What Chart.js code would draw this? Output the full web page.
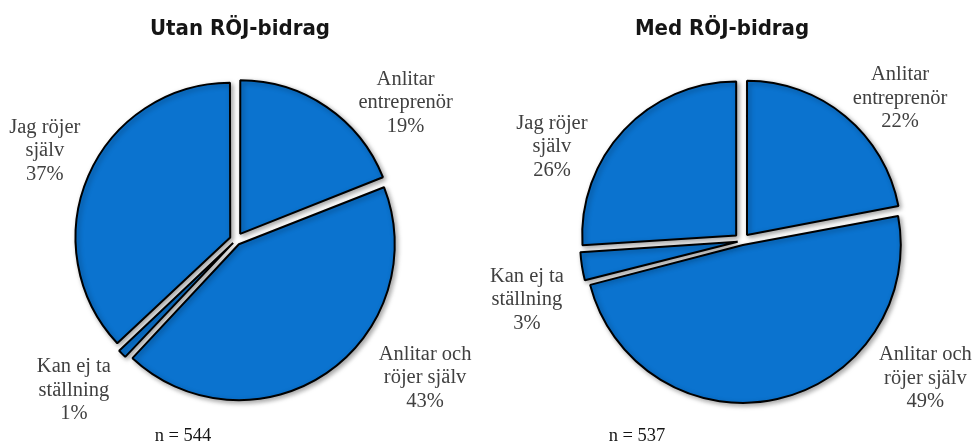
<!DOCTYPE html>
<html lang="sv">
<head>
<meta charset="utf-8">
<title>RÖJ-bidrag</title>
<script src="https://cdn.jsdelivr.net/npm/chart.js@4.4.1/dist/chart.umd.min.js"></script>
<style>
  html, body { margin: 0; padding: 0; background: #fff; }
  #wrap { position: relative; width: 975px; height: 443px; }
  canvas { position: absolute; top: 0; }
  #pieLeft { left: 0; }
  #pieRight { left: 487px; }
</style>
</head>
<body>
<div id="wrap">
  <canvas id="pieLeft" width="487" height="443"></canvas>
  <canvas id="pieRight" width="488" height="443"></canvas>
</div>
<script>
// Data
const categories = ['Anlitar\nentreprenör', 'Anlitar och\nröjer själv', 'Kan ej ta\nställning', 'Jag röjer\nsjälv'];
const titles = ['Utan RÖJ-bidrag', 'Med RÖJ-bidrag'];
const withoutGrant = [19, 43, 1, 37];
const withGrant = [22, 49, 3, 26];
const sampleSizes = [544, 537];

const sliceBlue = '#0b73cf';
const explodePx = 8;

// Chart.js moves an arc by offset/4 * (2 - sin(angle)), so undo that to get the same gap on every slice
function sliceOffset(ctx) {
    const data = ctx.dataset.data;
    const total = data.reduce((s, v) => s + v, 0);
    const angle = data[ctx.dataIndex] / total * Math.PI * 2;
    return explodePx * 4 / (2 - Math.sin(Math.min(Math.PI, angle)));
}

// Draws shadow under the slices, then title, slice labels and n
const pieNotes = {
    id: 'pieNotes',
    beforeDatasetsDraw(chart) {
        const ctx = chart.ctx;
        ctx.save();
        ctx.shadowColor = 'rgba(0, 0, 0, 0.35)';
        ctx.shadowBlur = 5;
        ctx.shadowOffsetX = 2;
        ctx.shadowOffsetY = 2;
    },
    afterDatasetsDraw(chart) {
        chart.ctx.restore();
    },
    afterDraw(chart, args, opts) {
        const ctx = chart.ctx;
        const meta = chart.getDatasetMeta(0);
        const values = chart.data.datasets[0].data;
        const cx = meta.data[0].x;
        const cy = meta.data[0].y;

        ctx.save();
        ctx.textAlign = 'center';

        ctx.fillStyle = '#151515';
        ctx.font = 'bold 22px "DejaVu Sans Condensed", "DejaVu Sans", sans-serif';
        ctx.textBaseline = 'alphabetic';
        ctx.fillText(opts.title, cx + opts.titleDx, opts.titleY);

        ctx.font = '20.5px "Liberation Serif", serif';
        ctx.fillStyle = '#404040';
        ctx.textBaseline = 'middle';
        meta.data.forEach((arc, i) => {
            const p = arc.getProps(['startAngle', 'endAngle', 'outerRadius'], true);
            const a = (p.startAngle + p.endAngle) / 2 + opts.labelTurn[i] * Math.PI / 180;
            const r = p.outerRadius + opts.labelGap[i];
            const x = cx + Math.cos(a) * r;
            const y = cy + Math.sin(a) * r;
            const lines = (chart.data.labels[i] + '\n' + values[i] + '%').split('\n');
            lines.forEach((line, k) => {
                ctx.fillText(line, x, y + (k - (lines.length - 1) / 2) * 23.5);
            });
        });

        ctx.font = '18.5px "Liberation Serif", serif';
        ctx.fillStyle = '#151515';
        ctx.fillText('n = ' + opts.n, cx + opts.nDx, opts.nY);
        ctx.restore();
    }
};

function makePie(canvasId, values, radius, padding, notes) {
    return new Chart(document.getElementById(canvasId), {
        type: 'pie',
        data: {
            labels: categories,
            datasets: [{
                data: values,
                backgroundColor: sliceBlue,
                borderColor: '#000',
                borderWidth: 2,
                offset: sliceOffset,
                radius: radius
            }]
        },
        options: {
            responsive: false,
            animation: false,
            layout: { padding: padding },
            plugins: {
                legend: { display: false },
                tooltip: { enabled: false },
                title: { display: false },
                pieNotes: notes
            }
        },
        plugins: [pieNotes]
    });
}

makePie('pieLeft', withoutGrant, 153, { top: 50, bottom: 13, left: 0, right: 15 }, {
    title: titles[0], titleDx: 4, titleY: 35,
    n: sampleSizes[0], nDx: -53, nY: 436,
    labelTurn: [16.9, -19.7, 2.2, 1.6],
    labelGap: [65, 81, 68, 58]
});

makePie('pieRight', withGrant, 154, { top: 52, bottom: 13, left: 22, right: 0 }, {
    title: titles[1], titleDx: -20, titleY: 35,
    n: sampleSizes[1], nDx: -105, nY: 436,
    labelTurn: [8.3, -40.6, -6.3, -16.9],
    labelGap: [59, 75, 69, 58]
});
</script>
</body>
</html>
